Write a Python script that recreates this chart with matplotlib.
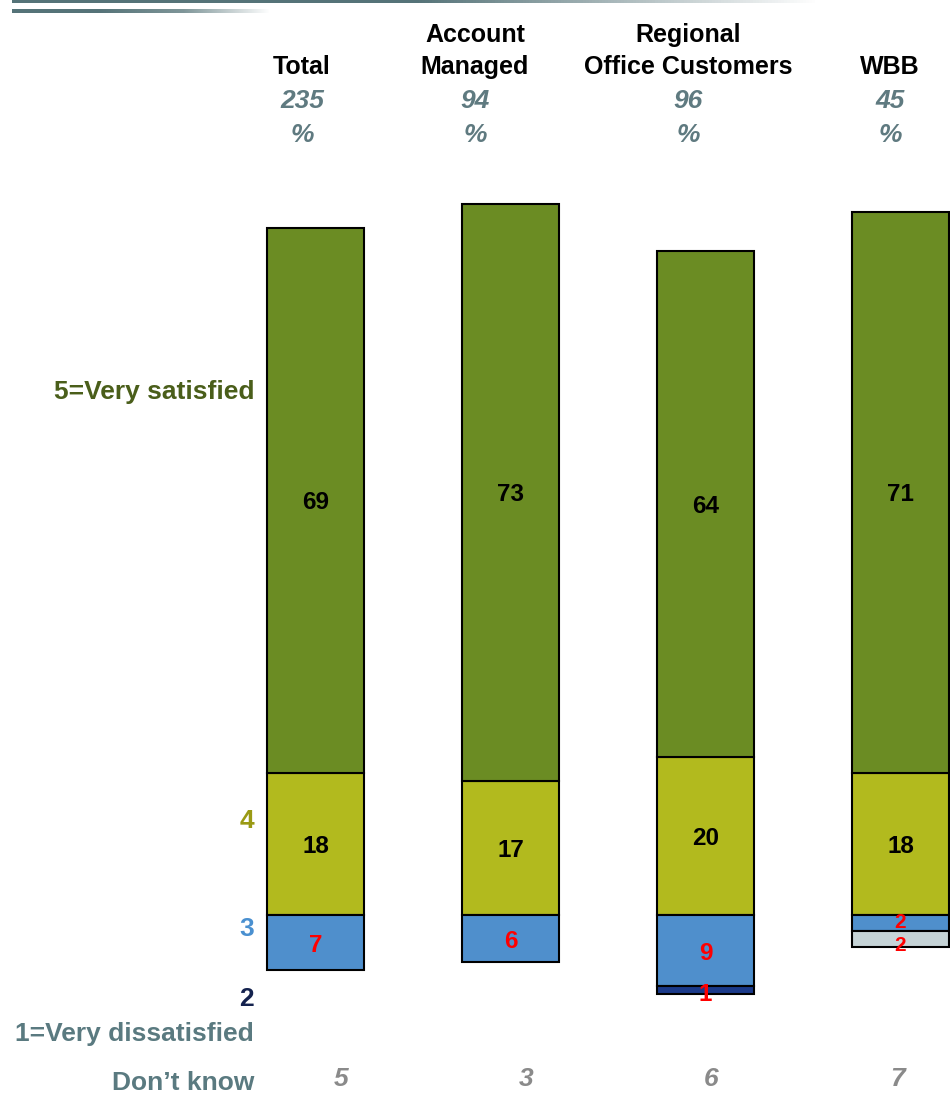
import numpy as np
import matplotlib
matplotlib.use("Agg")
import matplotlib.pyplot as plt
from matplotlib.colors import LinearSegmentedColormap

plt.rcParams['font.family'] = ['Liberation Sans', 'DejaVu Sans']

# ---- data ----
groups = ["Total", "Account\nManaged", "Regional\nOffice Customers", "WBB"]
bases = ["235", "94", "96", "45"]
very_satisfied = [69, 73, 64, 71]   # 5
satisfied = [18, 17, 20, 18]        # 4
neutral = [7, 6, 9, 2]              # 3
dissatisfied = [0, 0, 1, 0]         # 2
very_dissatisfied = [0, 0, 0, 2]    # 1
dont_know = [5, 3, 6, 7]
row_labels = ["5=Very satisfied", "4", "3", "2", "1=Very dissatisfied", "Don\u2019t know"]

W, H = 950, 1094
fig = plt.figure(figsize=(W / 100, H / 100), dpi=100)

def fx(px):
    return px / W

def fy(py):
    return 1 - py / H

# colours
c5, c4, c3, c2, c1 = "#6B8C23", "#B2BA1E", "#4F8FCC", "#1B3A8A", "#C5D3D6"

ax = fig.add_axes([0, 0, 1, 1])
ax.set_axis_off()
ppu = 7.9
base_px = 915
ax.set_ylim((base_px - H) / ppu, base_px / ppu)
spacing = 195.0
x0 = 315.5
ax.set_xlim(-x0 / spacing, (W - x0) / spacing)

x = np.arange(len(groups))
bw = 97 / spacing
ekw = dict(edgecolor="black", linewidth=1.5, width=bw)

s4 = np.array(satisfied)
s5 = np.array(very_satisfied)
n3 = np.array(neutral)
n2 = np.array(dissatisfied)
n1 = np.array(very_dissatisfied)

ax.bar(x, s4, bottom=0, color=c4, **ekw)
ax.bar(x, s5, bottom=s4, color=c5, **ekw)
ax.bar(x, -n3, bottom=0, color=c3, **ekw)
for i in range(len(x)):
    if n2[i] > 0:
        ax.bar(x[i], -n2[i], bottom=-n3[i], color=c2, **ekw)
    if n1[i] > 0:
        ax.bar(x[i], -n1[i], bottom=-n3[i] - n2[i], color=c1, **ekw)

lab_kw = dict(ha="center", va="center_baseline", fontweight="bold")
for i in range(len(x)):
    ax.text(x[i], s4[i] + s5[i] / 2, str(s5[i]), color="black", fontsize=17.5, **lab_kw)
    ax.text(x[i], s4[i] / 2, str(s4[i]), color="black", fontsize=17.5, **lab_kw)
    crowded = (n2[i] + n1[i] > 0 and n3[i] < 4)
    fs_small = 15 if crowded else 17.5
    if n3[i] > 0:
        dy = 0.35 if crowded else 0
        ax.text(x[i], -n3[i] / 2 + dy, str(n3[i]), color="red", fontsize=fs_small, **lab_kw)
    if n2[i] > 0:
        ax.text(x[i], -n3[i] - n2[i] / 2 - 0.3, str(n2[i]), color="red", fontsize=17.5, **lab_kw)
    if n1[i] > 0:
        dy = 0.55 if crowded else 0.3
        ax.text(x[i], -n3[i] - n2[i] - n1[i] / 2 - dy, str(n1[i]), color="red",
                fontsize=fs_small, **lab_kw)

# headers
hdr_x = [302, 475, 688, 890]
for i, g in enumerate(groups):
    fig.text(fx(hdr_x[i]), fy(74), g, ha="center", va="baseline", fontsize=18,
             fontweight="bold", color="black", linespacing=1.4)
    fig.text(fx(hdr_x[i]), fy(99), bases[i], ha="center", va="center_baseline", fontsize=19,
             fontweight="bold", fontstyle="italic", color="#5F7A80")
    fig.text(fx(hdr_x[i]), fy(132), "%", ha="center", va="center_baseline", fontsize=19,
             fontweight="bold", fontstyle="italic", color="#5F7A80")

# don't know values
dk_x = [341, 526, 711, 897]
for i, v in enumerate(dont_know):
    fig.text(fx(dk_x[i]), fy(1077), str(v), ha="center", va="center_baseline", fontsize=19,
             fontweight="bold", fontstyle="italic", color="#8A8A8A")

# row labels
row_y = [389, 818, 926, 997, 1031, 1081]
row_c = ["#4A5E1A", "#9A9A14", "#4A90D0", "#14224E", "#5A7A80", "#5A7A80"]
for lab, yy, cc in zip(row_labels, row_y, row_c):
    fig.text(fx(254), fy(yy), lab, ha="right", va="center_baseline", fontsize=19,
             fontweight="bold", color=cc)

# decorative gradient lines at top
cmap = LinearSegmentedColormap.from_list("fade", ["#557378", "#557378", "#ffffff"])
grad = np.linspace(0, 1, 256).reshape(1, -1)
lax1 = fig.add_axes([fx(12), fy(3), fx(820 - 12), 3 / H])
lax1.imshow(grad, aspect="auto", cmap=cmap)
lax1.set_axis_off()
cmap2 = LinearSegmentedColormap.from_list("fade2", ["#557378", "#557378", "#7f9699", "#ffffff"])
lax2 = fig.add_axes([fx(12), fy(13), fx(270 - 12), 4 / H])
lax2.imshow(grad, aspect="auto", cmap=cmap2)
lax2.set_axis_off()

fig.savefig("out.png", dpi=100)
